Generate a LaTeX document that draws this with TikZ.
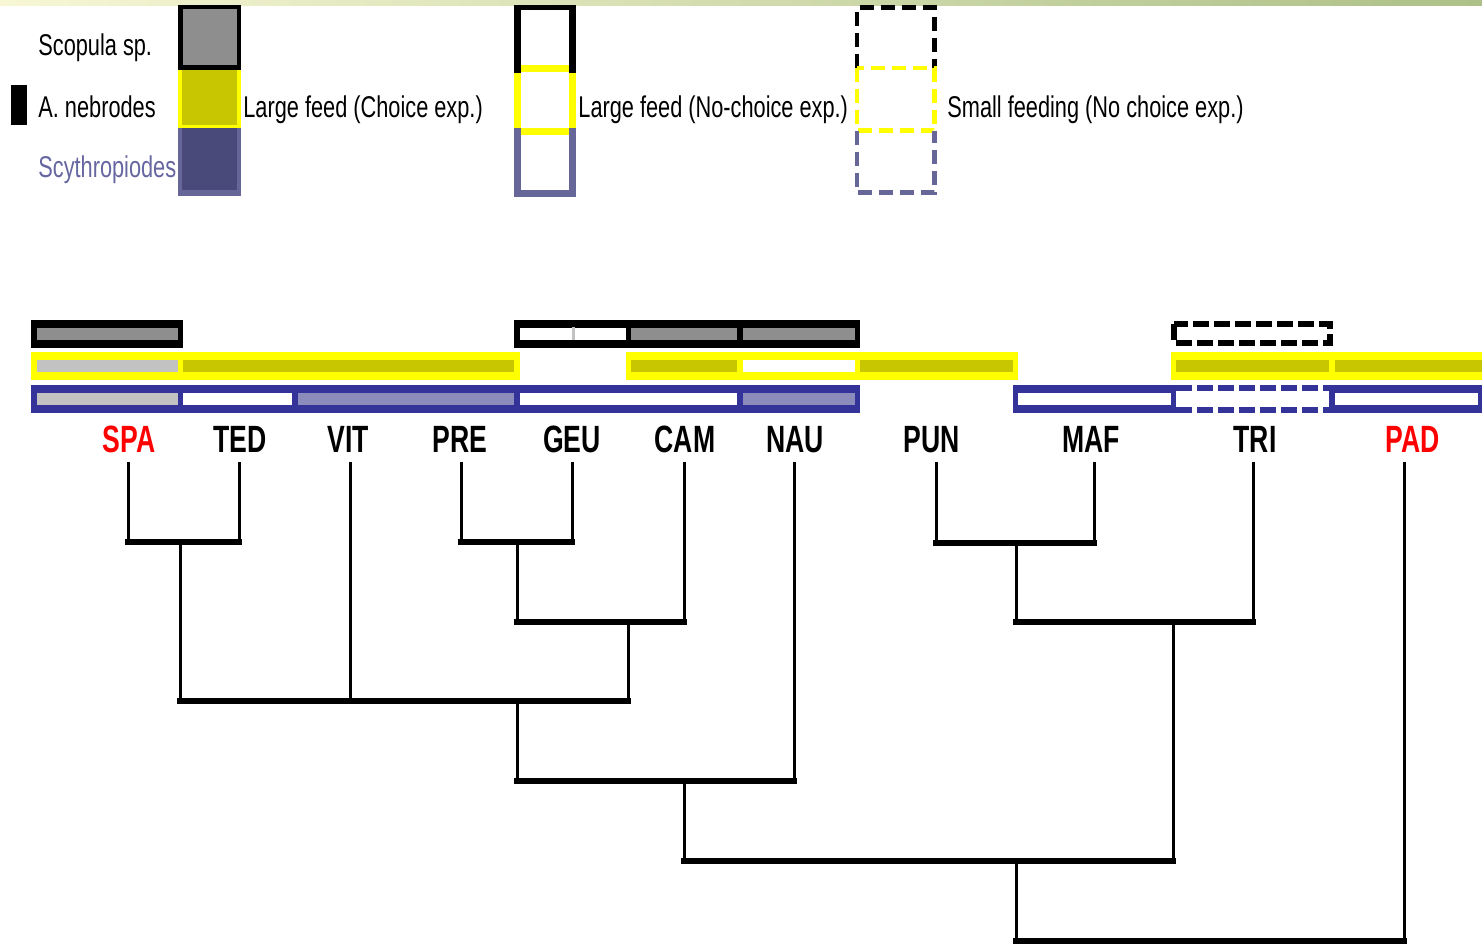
\documentclass[tikz,border=0pt]{standalone}
\usepackage{fontspec}
\newfontfamily\legfont[FakeStretch=0.725]{Liberation Sans}
\newfontfamily\labfont[FakeStretch=0.70]{Liberation Sans}
\definecolor{barblue}{HTML}{333399}
\definecolor{ylw}{HTML}{FFFF00}
\definecolor{olive}{HTML}{C8C600}
\definecolor{gryA}{HTML}{8E8E8E}
\definecolor{gryB}{HTML}{C2C2C2}
\definecolor{bgry}{HTML}{8C8CBC}
\definecolor{legblue}{HTML}{666699}
\definecolor{legbluefill}{HTML}{4A4A7A}
\definecolor{scytxt}{HTML}{6666A0}
\definecolor{topl}{HTML}{F7F7D4}
\definecolor{topr}{HTML}{ADC088}
\definecolor{lblred}{HTML}{FF0000}
\begin{document}
\begin{tikzpicture}[x=0.5pt,y=-0.5pt,
  vline/.style={line width=1.5pt},
  hline/.style={line width=2.6pt,line cap=rect},
  leaf/.style={font=\labfont\bfseries\fontsize{19}{22}\selectfont,anchor=base,inner sep=0pt},
  legtxt/.style={font=\legfont\fontsize{15}{18}\selectfont,anchor=base west,inner sep=0pt},
  dashbox/.style={line width=2.4pt,dash pattern=on 7pt off 3.5pt},
  dashbar/.style={line width=3pt,dash pattern=on 8pt off 2.5pt}]
\useasboundingbox (0,0) rectangle (1482,948);
% top gradient band
\shade[left color=topl,right color=topr] (0,0) rectangle (1482,5);

% ---------------- legend ----------------
\fill[black] (11,85) rectangle (27,125);
\node[legtxt] (tScop) at (38,55) {Scopula sp.};
\node[legtxt] (tNeb) at (38,117) {A. nebrodes};
\node[legtxt,text=scytxt] (tScy) at (38,177) {Scythropiodes};

% column 1 (choice)
\fill[black] (178,5) rectangle (241,70);
\fill[gryA] (183,9) rectangle (237,65);
\fill[ylw] (178,70) rectangle (241,128);
\fill[olive] (182,70) rectangle (237,125);
\fill[legblue] (178,128) rectangle (241,196);
\fill[legbluefill] (182,128) rectangle (237,190);
\node[legtxt] (tC1) at (243,117) {Large feed (Choice exp.)};

% column 2 (no-choice)
\fill[black] (514,5) rectangle (521,73);
\fill[black] (569,5) rectangle (576,73);
\fill[black] (514,5) rectangle (576,10);
\fill[ylw] (521,65) rectangle (569,72);
\fill[ylw] (514,73) rectangle (521,128);
\fill[ylw] (569,73) rectangle (576,128);
\fill[ylw] (521,128) rectangle (569,135);
\fill[legblue] (514,128) rectangle (521,197);
\fill[legblue] (569,128) rectangle (576,197);
\fill[legblue] (514,190) rectangle (576,197);
\node[legtxt] (tC2) at (578,117) {Large feed (No-choice exp.)};

% column 3 (small feeding)
\draw[dashbox,black] (857,68) -- (857,7.5) -- (934.5,7.5) -- (934.5,68);
\draw[dashbox,ylw] (857,68) rectangle (934.5,130.5);
\draw[dashbox,legblue] (857,130.5) -- (857,192.5) -- (934.5,192.5) -- (934.5,130.5);
\node[legtxt] (tC3) at (947,117) {Small feeding (No choice exp.)};

% ---------------- bars ----------------
% black row
\fill[black] (31,320) rectangle (183,348);
\fill[gryA] (36.5,328) rectangle (178,340);
\fill[black] (514,320) rectangle (860,348);
\fill[white] (520,328) rectangle (626,340);
\fill[gryB] (572,327) rectangle (574.5,340);
\fill[gryA] (631,328) rectangle (737,340);
\fill[gryA] (743,328) rectangle (855,340);
\draw[dashbar,black] (1174,323.5) rectangle (1330,342.5);

% yellow row
\fill[ylw] (31,352) rectangle (520,380);
\fill[gryB] (36.5,360) rectangle (178,372);
\fill[olive] (183,360) rectangle (514,372);
\fill[ylw] (626,352) rectangle (1018,380);
\fill[olive] (631,360) rectangle (737,372);
\fill[white] (743,360) rectangle (855,372);
\fill[olive] (860,360) rectangle (1013,372);
\fill[ylw] (1171,352) rectangle (1482,380);
\fill[olive] (1176,360) rectangle (1329,372);
\fill[olive] (1335,360) rectangle (1482,372);

% blue row
\fill[barblue] (31,385) rectangle (860,413);
\fill[gryB] (36.5,393) rectangle (178,405);
\fill[white] (183,393) rectangle (292,405);
\fill[bgry] (298,393) rectangle (514,405);
\fill[white] (520,393) rectangle (737,405);
\fill[bgry] (743,393) rectangle (855,405);
\fill[barblue] (1013,385) rectangle (1176,413);
\fill[white] (1018,393) rectangle (1171,405);
\draw[dashbar,barblue] (1176,388) -- (1329,388);
\draw[dashbar,barblue] (1176,410) -- (1329,410);
\fill[barblue] (1329,385) rectangle (1482,413);
\fill[white] (1335,393) rectangle (1478,405);

% ---------------- leaf labels ----------------
\node[leaf,text=lblred] (SPA) at (129,452) {SPA};
\node[leaf] (TED) at (240,452) {TED};
\node[leaf] (VIT) at (348,452) {VIT};
\node[leaf] (PRE) at (460,452) {PRE};
\node[leaf] (GEU) at (572,452) {GEU};
\node[leaf] (CAM) at (685,452) {CAM};
\node[leaf] (NAU) at (795,452) {NAU};
\node[leaf] (PUN) at (932,452) {PUN};
\node[leaf] (MAF) at (1091,452) {MAF};
\node[leaf] (TRI) at (1255,452) {TRI};
\node[leaf,text=lblred] (PAD) at (1413,452) {PAD};

% leaf line tops
\coordinate (lSPA) at (128,462);
\coordinate (lTED) at (239,462);
\coordinate (lVIT) at (350,462);
\coordinate (lPRE) at (461,462);
\coordinate (lGEU) at (572,462);
\coordinate (lCAM) at (684,462);
\coordinate (lNAU) at (794,462);
\coordinate (lPUN) at (936,462);
\coordinate (lMAF) at (1094,462);
\coordinate (lTRI) at (1253,462);
\coordinate (lPAD) at (1404,462);

% junctions (stem x, bar y)
\coordinate (j1) at (180,542);
\coordinate (j2) at (517,542);
\coordinate (j3) at (628,622);
\coordinate (j4) at (517,701);
\coordinate (j5) at (684,781);
\coordinate (j6) at (1016,543);
\coordinate (j7) at (1173,622);
\coordinate (j8) at (1016,861);
\coordinate (j9) at (1210,941);

% clade SPA+TED
\draw[vline] (lSPA) -- (lSPA |- j1);
\draw[vline] (lTED) -- (lTED |- j1);
\draw[hline] (lSPA |- j1) -- (lTED |- j1);
% clade PRE+GEU
\draw[vline] (lPRE) -- (lPRE |- j2);
\draw[vline] (lGEU) -- (lGEU |- j2);
\draw[hline] (lPRE |- j2) -- (lGEU |- j2);
% clade j2+CAM
\draw[vline] (j2) -- (j2 |- j3);
\draw[vline] (lCAM) -- (lCAM |- j3);
\draw[hline] (j2 |- j3) -- (lCAM |- j3);
% clade j1+VIT+j3
\draw[vline] (j1) -- (j1 |- j4);
\draw[vline] (lVIT) -- (lVIT |- j4);
\draw[vline] (j3) -- (j3 |- j4);
\draw[hline] (j1 |- j4) -- (j3 |- j4);
% clade j4+NAU
\draw[vline] (j4) -- (j4 |- j5);
\draw[vline] (lNAU) -- (lNAU |- j5);
\draw[hline] (j4 |- j5) -- (lNAU |- j5);
% clade PUN+MAF
\draw[vline] (lPUN) -- (lPUN |- j6);
\draw[vline] (lMAF) -- (lMAF |- j6);
\draw[hline] (lPUN |- j6) -- (lMAF |- j6);
% clade j6+TRI
\draw[vline] (j6) -- (j6 |- j7);
\draw[vline] (lTRI) -- (lTRI |- j7);
\draw[hline] (j6 |- j7) -- (lTRI |- j7);
% clade j5+j7
\draw[vline] (j5) -- (j5 |- j8);
\draw[vline] (j7) -- (j7 |- j8);
\draw[hline] (j5 |- j8) -- (j7 |- j8);
% root j8+PAD
\draw[vline] (j8) -- (j8 |- j9);
\draw[vline] (lPAD) -- (lPAD |- j9);
\draw[hline] (j8 |- j9) -- (lPAD |- j9);
\end{tikzpicture}
\end{document}
